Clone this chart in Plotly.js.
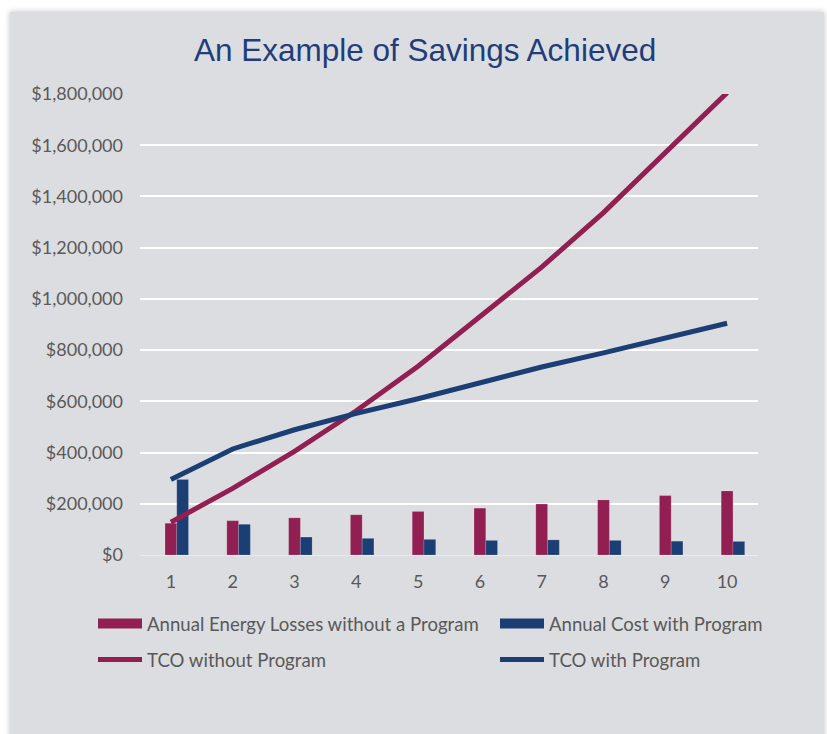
<!DOCTYPE html>
<html>
<head>
<meta charset="utf-8">
<script src="https://cdn.plot.ly/plotly-3.0.1.min.js"></script>
<style>
  html, body { margin:0; padding:0; background:#ffffff; width:827px; height:734px; overflow:hidden; }
  #card { position:absolute; left:10px; top:12px; width:814px; height:740px; background:#dcdde0;
          box-shadow: 0 0 6px rgba(0,0,0,0.25); }
  #chart { position:absolute; left:0; top:0; width:827px; height:734px; }
</style>
</head>
<body>
<div id="card"></div>
<div id="chart"></div>
<script>
// ---- data ----
const years = [1, 2, 3, 4, 5, 6, 7, 8, 9, 10];
const annualLossesNoProgram = [124000, 134000, 145000, 157000, 170000, 183000, 199000, 215000, 232000, 250000];
const annualCostWithProgram = [295000, 120000, 70000, 65000, 61000, 57000, 59000, 57000, 54000, 53000];
const tcoNoProgram = [128000, 260000, 405000, 563000, 737000, 928000, 1124000, 1337000, 1568000, 1805000];
const tcoWithProgram = [295000, 414000, 489000, 553000, 610000, 672000, 734000, 789000, 848000, 905000];
const seriesNames = ["Annual Energy Losses without a Program", "Annual Cost with Program",
                     "TCO without Program", "TCO with Program"];

const RED = "#921f52";
const BLUE = "#1b3e74";
const BAR_W = 0.19;

const traces = [
  { type: "bar", x: years, y: annualLossesNoProgram, name: seriesNames[0], showlegend: false,
    width: BAR_W, offset: -BAR_W / 2,
    marker: { color: RED, line: { color: "rgba(255,255,255,0.25)", width: 0.6 } } },
  { type: "bar", x: years, y: annualCostWithProgram, name: seriesNames[1], showlegend: false,
    width: BAR_W, offset: BAR_W / 2,
    marker: { color: BLUE, line: { color: "rgba(255,255,255,0.25)", width: 0.6 } } },
  { type: "scatter", mode: "lines", x: years, y: tcoNoProgram, name: seriesNames[2],
    line: { color: RED, width: 5 }, legend: "legend3" },
  { type: "scatter", mode: "lines", x: years, y: tcoWithProgram, name: seriesNames[3],
    line: { color: BLUE, width: 5 }, legend: "legend4" },
  // legend swatches for the bar series
  { type: "scatter", mode: "lines", x: [null], y: [null], name: seriesNames[0],
    line: { color: RED, width: 11 }, legend: "legend", hoverinfo: "skip" },
  { type: "scatter", mode: "lines", x: [null], y: [null], name: seriesNames[1],
    line: { color: BLUE, width: 11 }, legend: "legend2", hoverinfo: "skip" }
];

const legFont = { family: "Lato, 'Open Sans', sans-serif", size: 18.6, color: "#595959" };
function leg(x, y) {
  return { x: x, y: y, xanchor: "left", yanchor: "middle", orientation: "v",
           bgcolor: "rgba(0,0,0,0)", borderwidth: 0, font: legFont, itemwidth: 44 };
}

const layout = {
  width: 827, height: 734, autosize: false,
  paper_bgcolor: "rgba(0,0,0,0)", plot_bgcolor: "rgba(0,0,0,0)",
  margin: { l: 140, r: 69, t: 94, b: 179, pad: 0 },
  title: { text: "An Example of Savings Achieved", xref: "container", x: 0.514, xanchor: "center",
           yref: "container", y: 1 - 50/734, yanchor: "middle",
           font: { family: "'Liberation Sans', Arial, sans-serif", size: 31.5, color: "#1f3d7c" } },
  barmode: "overlay",
  xaxis: { type: "linear", range: [0.5, 10.5], tickvals: years, ticktext: years.map(String),
           showgrid: false, zeroline: false, showline: false, ticks: "",
           ticklabelstandoff: 14,
           tickfont: { family: "Lato, 'Open Sans', sans-serif", size: 18, color: "#595959" } },
  yaxis: { range: [0, 1800000], dtick: 200000, tick0: 0, tickprefix: "$", tickformat: ",.0f",
           showgrid: true, gridcolor: "#ffffff", gridwidth: 2,
           zeroline: true, zerolinecolor: "rgba(255,255,255,0.45)", zerolinewidth: 1,
           showline: false, ticks: "", ticklabelstandoff: 16,
           tickfont: { family: "Lato, 'Open Sans', sans-serif", size: 18, color: "#595959" } },
  showlegend: true,
  legend:  leg((93 - 140) / 618, (555 - 624) / 461),
  legend2: leg((495 - 140) / 618, (555 - 624) / 461),
  legend3: leg((93 - 140) / 618, (555 - 660) / 461),
  legend4: leg((495 - 140) / 618, (555 - 660) / 461)
};

Plotly.newPlot("chart", traces, layout, { displayModeBar: false, staticPlot: true });
</script>
</body>
</html>
